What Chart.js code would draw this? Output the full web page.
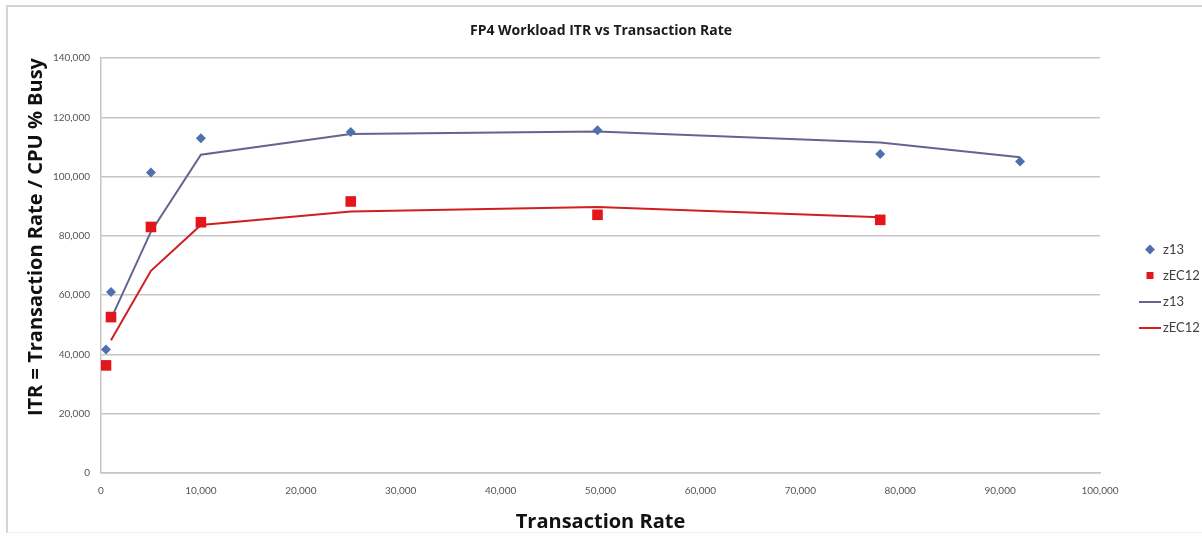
<!DOCTYPE html>
<html>
<head>
<meta charset="utf-8">
<title>FP4 Workload ITR vs Transaction Rate</title>
<script src="https://cdn.jsdelivr.net/npm/chart.js@4.4.1/dist/chart.umd.min.js"></script>
<style>
  html, body { margin: 0; padding: 0; background: #fff; }
  #wrap { position: relative; width: 1202px; height: 538px; overflow: hidden; }
  /* the grey frame Excel draws round the chart */
  #frame { position: absolute; left: 6px; top: 5px; width: 1300px; height: 525px;
           border-top: 2px solid #d4d4d4; border-left: 2px solid #d4d4d4; border-bottom: 1px solid #ededed; }
  #chart { position: absolute; left: 0; top: 0; }
</style>
</head>
<body>
<div id="wrap">
  <div id="frame"></div>
  <canvas id="chart" width="1202" height="538"></canvas>
</div>
<script>
// measured points (markers)
const rateZ13   = [500, 1000, 5000, 10000, 25000, 49700, 78000, 92000];
const itrZ13    = [41700, 61100, 101400, 112900, 115000, 115600, 107600, 105100];
const rateZEC12 = [500, 1000, 5000, 10000, 25000, 49700, 78000];
const itrZEC12  = [36300, 52600, 83000, 84600, 91600, 87100, 85400];

// fitted lines
const lineRateZ13   = [1000, 5000, 10000, 25000, 49700, 78000, 92000];
const lineZ13       = [52000, 81400, 107400, 114400, 115200, 111500, 106500];
const lineRateZEC12 = [1000, 5000, 10000, 25000, 49700, 78000];
const lineZEC12     = [44800, 68200, 83700, 88200, 89700, 86300];

// axes
const xMin = 0, xMax = 100000, xStep = 10000;
const yMin = 0, yMax = 140000, yStep = 20000;

const BLUE = '#4f6fae', RED = '#e3161b';
const BLUE_LINE = '#62658f', RED_LINE = '#cf1f1f';
const GRID = '#c6c6c6';
const TITLE_FONT = '"Open Sans", Lato, sans-serif';

Chart.defaults.font.family = 'Lato, "Liberation Sans", sans-serif';

const pts = (xs, ys) => xs.map((x, i) => ({ x: x, y: ys[i] }));
const fmt = v => Number(v).toLocaleString('en-US');

// short line swatch for the legend
function lineSwatch(color) {
  const c = document.createElement('canvas');
  c.width = 22; c.height = 2;
  const g = c.getContext('2d');
  g.fillStyle = color;
  g.fillRect(0, 0, 22, 2);
  return c;
}

new Chart(document.getElementById('chart'), {
  type: 'scatter',
  data: {
    datasets: [
      { label: 'z13', data: pts(rateZ13, itrZ13), pointStyle: 'rectRot', pointRadius: 5,
        backgroundColor: BLUE, borderColor: BLUE, borderWidth: 0, showLine: false },
      { label: 'zEC12', data: pts(rateZEC12, itrZEC12), pointStyle: 'rect', pointRadius: 7.5,
        backgroundColor: RED, borderColor: RED, borderWidth: 0, showLine: false },
      { label: 'z13', data: pts(lineRateZ13, lineZ13), showLine: true, pointRadius: 0,
        borderColor: BLUE_LINE, backgroundColor: BLUE_LINE, borderWidth: 2 },
      { label: 'zEC12', data: pts(lineRateZEC12, lineZEC12), showLine: true, pointRadius: 0,
        borderColor: RED_LINE, backgroundColor: RED_LINE, borderWidth: 2 }
    ]
  },
  options: {
    responsive: false,
    animation: false,
    layout: { padding: 0 },
    plugins: {
      tooltip: { enabled: false },
      title: {
        display: true,
        text: 'FP4 Workload ITR vs Transaction Rate',
        color: '#1a1a1a',
        font: { family: TITLE_FONT, size: 14, weight: 'bold' },
        padding: { top: 22.6, bottom: 18.6 }
      },
      legend: {
        position: 'right',
        maxWidth: 71.5,
        // empty title only used as a spacer to push the items down
        title: { display: true, text: '', font: { size: 13 }, padding: { top: 0, bottom: 23.4 } },
        labels: {
          usePointStyle: true,
          boxWidth: 13,
          boxHeight: 7,
          padding: 13,
          color: '#404040',
          font: { size: 13 },
          generateLabels: chart => chart.data.datasets.map((ds, i) => ({
            text: ds.label,
            datasetIndex: i,
            fillStyle: ds.backgroundColor,
            strokeStyle: ds.borderColor,
            lineWidth: 0,
            pointStyle: ds.showLine ? lineSwatch(ds.borderColor) : ds.pointStyle,
            fontColor: '#404040',
            hidden: false
          }))
        }
      }
    },
    scales: {
      x: {
        type: 'linear',
        min: xMin, max: xMax,
        ticks: { stepSize: xStep, padding: 12, color: '#555', font: { size: 10 },
                 maxRotation: 0, autoSkip: false, callback: fmt },
        grid: { display: false, drawTicks: false },
        border: { display: true, color: GRID, width: 1.5 },
        title: { display: true, text: 'Transaction Rate', color: '#111',
                 font: { family: TITLE_FONT, size: 20, weight: 'bold' }, padding: { top: 0, bottom: 4 } },
        afterFit: s => { s.height = 65; }
      },
      y: {
        type: 'linear',
        min: yMin, max: yMax,
        ticks: { stepSize: yStep, padding: 11, color: '#555', font: { size: 10 }, callback: fmt },
        grid: { color: GRID, lineWidth: 1.5, drawTicks: false },
        border: { display: true, color: GRID, width: 1.5 },
        title: { display: true, text: 'ITR = Transaction Rate / CPU % Busy', align: 'end', color: '#111',
                 font: { family: TITLE_FONT, size: 20, weight: 'bold' }, padding: { top: 24, bottom: 0 } },
        afterFit: s => { s.width = 101; }
      },
      // empty strip between plot and legend
      gap: {
        type: 'linear', position: 'right', display: true,
        grid: { display: false, drawTicks: false },
        border: { display: false },
        ticks: { display: false },
        afterFit: s => { s.width = 30.5; }
      }
    }
  }
});
</script>
</body>
</html>
